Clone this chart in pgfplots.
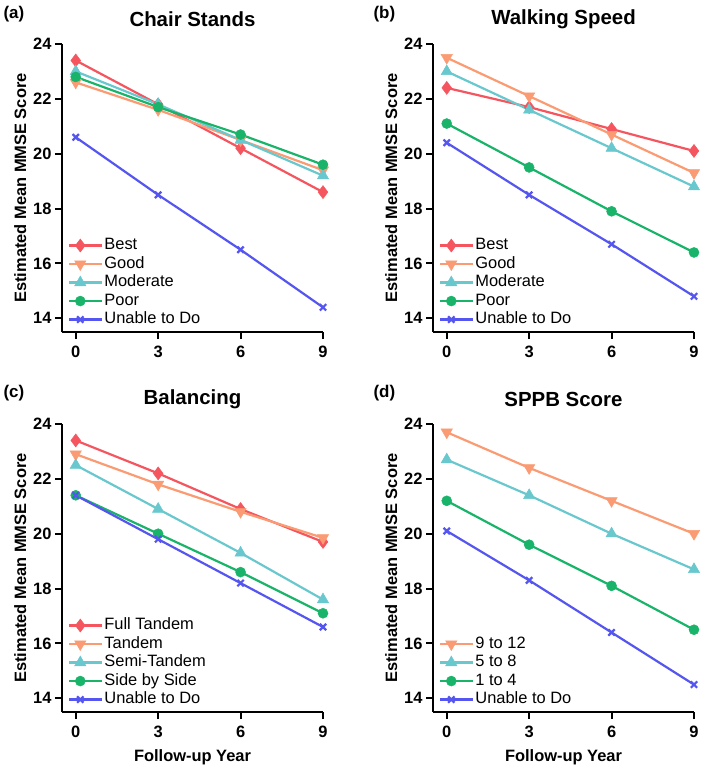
\documentclass[border=0pt]{standalone}
\usepackage{fontspec}
\setmainfont{Liberation Sans}
\usepackage{pgfplots}
\pgfplotsset{compat=1.18}

\definecolor{cred}{RGB}{245,85,95}
\definecolor{corange}{RGB}{250,155,115}
\definecolor{ccyan}{RGB}{105,200,205}
\definecolor{cgreen}{RGB}{25,180,105}
\definecolor{cblue}{RGB}{85,85,240}

\pgfplotsset{
  panel/.style={
    scale only axis, width=261bp, height=288bp,
    xmin=-0.5, xmax=9, ymin=13.5, ymax=24,
    axis lines=left, axis line style={-, line width=2bp},
    xtick={0,3,6,9}, ytick={14,16,18,20,22,24},
    tick align=outside, major tick length=7bp,
    tick style={line width=2bp, black},
    /pgf/number format/assume math mode=true,
    ticklabel style={font=\bfseries\fontsize{16.5}{19}\selectfont},
    xticklabel style={yshift=-3bp},
    clip=false,
    ylabel={Estimated Mean MMSE Score},
    ylabel style={at={(axis description cs:-0.16,0.5)}, anchor=center,
      font=\bfseries\fontsize{16.5}{19}\selectfont},
    xlabel style={at={(axis description cs:0.5,0)}, anchor=center, yshift=-45bp,
      font=\bfseries\fontsize{16.5}{19}\selectfont},
    title style={at={(axis description cs:0.5,1)}, anchor=center, yshift=19bp,
      font=\bfseries\fontsize{20.5}{24}\selectfont},
    legend cell align=left,
    legend style={draw=none, fill=none, inner sep=0pt,
      at={(axis description cs:0,0)}, anchor=south west, xshift=6bp, yshift=3bp,
      font=\fontsize{16.5}{18}\selectfont,
      nodes={inner sep=1bp, text height=12.5bp, text depth=4bp},
      /tikz/every even column/.append style={column sep=0bp}},
    legend image code/.code={
      \draw[mark repeat=2, mark phase=2, #1]
        plot coordinates {(0bp,0bp) (11bp,0bp) (22bp,0bp)};
      \path (0bp,0bp) -- (33bp,0bp);},
  },
  sred/.style={cred, line width=2.2bp, mark=diamond*, mark size=6.5bp,
    mark options={solid, fill=cred, draw=cred, line width=0.5bp}},
  sorange/.style={corange, line width=2.2bp, mark=triangle*, mark size=6.5bp,
    mark options={solid, fill=corange, draw=corange, rotate=180, line width=0.5bp}},
  scyan/.style={ccyan, line width=2.2bp, mark=triangle*, mark size=6.5bp,
    mark options={solid, fill=ccyan, draw=ccyan, line width=0.5bp}},
  sgreen/.style={cgreen, line width=2.2bp, mark=*, mark size=5bp,
    mark options={solid, fill=cgreen, draw=cgreen, line width=0.5bp}},
  sblue/.style={cblue, line width=2.2bp, mark=x, mark size=4.5bp,
    mark options={solid, draw=cblue, line width=2.2bp}},
}

\begin{document}
\begin{tikzpicture}
\useasboundingbox (0bp,0bp) rectangle (703bp,-769bp);

% (a) Chair Stands
\begin{axis}[panel, at={(62bp,-332bp)}, anchor=south west, title={Chair Stands}]
  \addplot[sred] coordinates {(0,23.4) (3,21.8) (6,20.2) (9,18.6)};
  \addlegendentry{Best}
  \addplot[sorange] coordinates {(0,22.6) (3,21.6) (6,20.5) (9,19.4)};
  \addlegendentry{Good}
  \addplot[scyan] coordinates {(0,23.0) (3,21.8) (6,20.5) (9,19.2)};
  \addlegendentry{Moderate}
  \addplot[sgreen] coordinates {(0,22.8) (3,21.7) (6,20.7) (9,19.6)};
  \addlegendentry{Poor}
  \addplot[sblue] coordinates {(0,20.6) (3,18.5) (6,16.5) (9,14.4)};
  \addlegendentry{Unable to Do}
\end{axis}

% (b) Walking Speed
\begin{axis}[panel, at={(433bp,-332bp)}, anchor=south west, title={Walking Speed}]
  \addplot[sred] coordinates {(0,22.4) (3,21.7) (6,20.9) (9,20.1)};
  \addlegendentry{Best}
  \addplot[sorange] coordinates {(0,23.5) (3,22.1) (6,20.7) (9,19.3)};
  \addlegendentry{Good}
  \addplot[scyan] coordinates {(0,23.0) (3,21.6) (6,20.2) (9,18.8)};
  \addlegendentry{Moderate}
  \addplot[sgreen] coordinates {(0,21.1) (3,19.5) (6,17.9) (9,16.4)};
  \addlegendentry{Poor}
  \addplot[sblue] coordinates {(0,20.4) (3,18.5) (6,16.7) (9,14.8)};
  \addlegendentry{Unable to Do}
\end{axis}

% (c) Balancing
\begin{axis}[panel, at={(62bp,-712bp)}, anchor=south west, title={Balancing},
  xlabel={Follow-up Year}]
  \addplot[sred] coordinates {(0,23.4) (3,22.2) (6,20.9) (9,19.7)};
  \addlegendentry{Full Tandem}
  \addplot[sorange] coordinates {(0,22.9) (3,21.8) (6,20.8) (9,19.85)};
  \addlegendentry{Tandem}
  \addplot[scyan] coordinates {(0,22.5) (3,20.9) (6,19.3) (9,17.6)};
  \addlegendentry{Semi-Tandem}
  \addplot[sgreen] coordinates {(0,21.4) (3,20.0) (6,18.6) (9,17.1)};
  \addlegendentry{Side by Side}
  \addplot[sblue] coordinates {(0,21.4) (3,19.8) (6,18.2) (9,16.6)};
  \addlegendentry{Unable to Do}
\end{axis}

% (d) SPPB Score
\begin{axis}[panel, at={(433bp,-712bp)}, anchor=south west, title={SPPB Score},
  xlabel={Follow-up Year}]
  \addplot[sorange] coordinates {(0,23.7) (3,22.4) (6,21.2) (9,20.0)};
  \addlegendentry{9 to 12}
  \addplot[scyan] coordinates {(0,22.7) (3,21.4) (6,20.0) (9,18.7)};
  \addlegendentry{5 to 8}
  \addplot[sgreen] coordinates {(0,21.2) (3,19.6) (6,18.1) (9,16.5)};
  \addlegendentry{1 to 4}
  \addplot[sblue] coordinates {(0,20.1) (3,18.3) (6,16.4) (9,14.5)};
  \addlegendentry{Unable to Do}
\end{axis}

\node[anchor=west, font=\bfseries\fontsize{17}{20}\selectfont] at (0bp,-14bp) {(a)};
\node[anchor=west, font=\bfseries\fontsize{17}{20}\selectfont] at (370bp,-14bp) {(b)};
\node[anchor=west, font=\bfseries\fontsize{17}{20}\selectfont] at (0bp,-393bp) {(c)};
\node[anchor=west, font=\bfseries\fontsize{17}{20}\selectfont] at (370bp,-393bp) {(d)};
\end{tikzpicture}
\end{document}
